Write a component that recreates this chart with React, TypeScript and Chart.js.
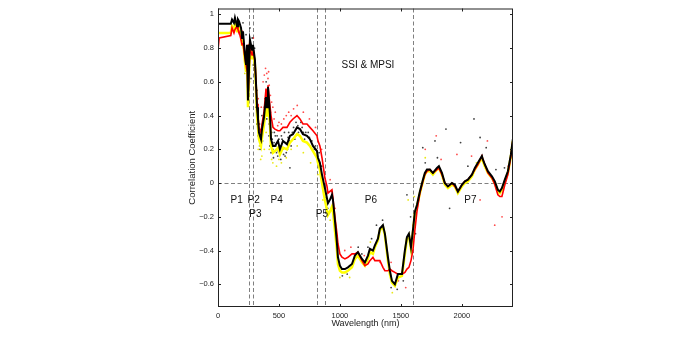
import React, { useEffect, useRef } from "react";
import { Chart, registerables } from "chart.js";

Chart.register(...registerables);

const FONT = "'Liberation Sans', Arial, Helvetica, sans-serif";

// Wavelength (nm) sample positions shared by the three correlation curves
const wavelengths = [
  0, 10, 105, 115, 131, 139, 156, 164, 172, 189,
  197, 205, 221, 230, 238, 246, 262, 279, 287, 303,
  312, 320, 328, 336, 353, 361, 377, 394, 402, 410,
  426, 435, 451, 467, 492, 508, 533, 566, 590, 615,
  648, 672, 697, 730, 754, 779, 812, 820, 836, 853,
  877, 894, 902, 918, 935, 943, 959, 976, 984, 1000,
  1017, 1041, 1066, 1099, 1123, 1148, 1181, 1205, 1230, 1246,
  1271, 1287, 1312, 1328, 1353, 1369, 1394, 1410, 1427, 1451,
  1476, 1509, 1533, 1550, 1566, 1583, 1599, 1615, 1632, 1656,
  1681, 1697, 1714, 1738, 1763, 1796, 1812, 1837, 1861, 1886,
  1919, 1943, 1968, 2001, 2025, 2050, 2083, 2107, 2132, 2165,
  2173, 2189, 2214, 2247, 2271, 2296, 2312, 2329, 2353, 2378,
  2403, 2419,
];

const blackCurve = [
  0.945, 0.945, 0.945, 0.97, 0.95, 0.98, 0.93, 0.97, 0.96, 0.92,
  0.86, 0.90, 0.76, 0.70, 0.82, 0.49, 0.85, 0.79, 0.82, 0.73,
  0.59, 0.45, 0.38, 0.30, 0.26, 0.32, 0.39, 0.51, 0.45, 0.57,
  0.41, 0.26, 0.22, 0.22, 0.25, 0.20, 0.25, 0.23, 0.28, 0.29,
  0.33, 0.32, 0.29, 0.28, 0.26, 0.22, 0.19, 0.15, 0.12, 0.05,
  -0.03, -0.09, -0.12, -0.10, -0.07, -0.10, -0.22, -0.36, -0.44, -0.49,
  -0.51, -0.51, -0.50, -0.48, -0.43, -0.41, -0.45, -0.47, -0.43, -0.39,
  -0.40, -0.37, -0.33, -0.27, -0.25, -0.30, -0.44, -0.52, -0.58, -0.60,
  -0.54, -0.54, -0.40, -0.32, -0.30, -0.38, -0.28, -0.17, -0.13, -0.05,
  0.02, 0.06, 0.08, 0.08, 0.06, 0.09, 0.10, 0.06, 0.00, -0.02,
  0.00, -0.01, -0.05, -0.01, 0.01, 0.02, 0.05, 0.09, 0.12, 0.16,
  0.14, 0.11, 0.07, 0.04, 0.01, -0.04, -0.05, -0.03, 0.02, 0.07,
  0.17, 0.26,
];

const redCurve = [
  0.79, 0.86, 0.875, 0.92, 0.89, 0.91, 0.93, 0.91, 0.90, 0.85,
  0.82, 0.83, 0.74, 0.70, 0.78, 0.50, 0.80, 0.76, 0.80, 0.72,
  0.60, 0.47, 0.40, 0.33, 0.30, 0.35, 0.42, 0.56, 0.50, 0.58,
  0.46, 0.40, 0.33, 0.32, 0.31, 0.31, 0.33, 0.33, 0.36, 0.38,
  0.40, 0.38, 0.35, 0.35, 0.33, 0.31, 0.28, 0.25, 0.22, 0.15,
  0.03, -0.02, -0.06, -0.05, -0.04, -0.09, -0.20, -0.30, -0.36, -0.42,
  -0.44, -0.45, -0.44, -0.42, -0.42, -0.41, -0.46, -0.49, -0.48, -0.46,
  -0.44, -0.46, -0.46, -0.46, -0.50, -0.52, -0.52, -0.51, -0.52, -0.53,
  -0.54, -0.54, -0.53, -0.51, -0.50, -0.46, -0.40, -0.28, -0.17, -0.06,
  0.01, 0.05, 0.07, 0.08, 0.06, 0.08, 0.09, 0.05, 0.00, -0.02,
  0.00, -0.02, -0.05, -0.01, 0.01, 0.02, 0.05, 0.08, 0.11, 0.16,
  0.14, 0.11, 0.06, 0.03, -0.01, -0.07, -0.08, -0.08, -0.01, 0.05,
  0.16, 0.25,
];

const yellowCurve = [
  0.89, 0.89, 0.89, 0.93, 0.91, 0.94, 0.90, 0.93, 0.92, 0.88,
  0.82, 0.85, 0.72, 0.66, 0.78, 0.45, 0.80, 0.74, 0.78, 0.70,
  0.55, 0.40, 0.33, 0.26, 0.22, 0.27, 0.34, 0.46, 0.40, 0.50,
  0.35, 0.22, 0.18, 0.19, 0.21, 0.17, 0.21, 0.20, 0.24, 0.26,
  0.29, 0.28, 0.25, 0.24, 0.22, 0.19, 0.15, 0.12, 0.08, 0.00,
  -0.10, -0.16, -0.19, -0.17, -0.14, -0.17, -0.28, -0.40, -0.48, -0.52,
  -0.53, -0.53, -0.52, -0.50, -0.45, -0.43, -0.47, -0.49, -0.45, -0.41,
  -0.42, -0.38, -0.34, -0.28, -0.26, -0.31, -0.46, -0.54, -0.59, -0.61,
  -0.56, -0.55, -0.42, -0.33, -0.31, -0.39, -0.29, -0.18, -0.14, -0.06,
  0.01, 0.05, 0.07, 0.07, 0.05, 0.08, 0.09, 0.05, -0.01, -0.03,
  -0.01, -0.02, -0.06, -0.02, 0.00, 0.01, 0.04, 0.08, 0.11, 0.15,
  0.13, 0.10, 0.06, 0.03, 0.00, -0.05, -0.06, -0.04, 0.01, 0.06,
  0.16, 0.25,
];

// Individual scattered points [wavelength, r]
const blackDots = [
  [150, 0.96], [180, 0.93], [205, 0.95], [230, 0.88], [246, 0.6], [262, 0.92], [280, 0.86],
  [300, 0.8], [320, 0.55], [340, 0.35], [350, 0.22], [365, 0.25], [380, 0.45], [395, 0.6],
  [405, 0.55], [415, 0.48], [420, 0.35], [440, 0.3], [455, 0.15], [470, 0.28], [480, 0.18],
  [500, 0.26], [515, 0.14], [530, 0.2], [545, 0.3], [560, 0.18], [575, 0.27], [590, 0.09],
  [600, 0.22], [620, 0.33], [640, 0.36], [660, 0.3], [690, 0.33], [710, 0.26], [740, 0.3],
  [770, 0.25], [790, 0.2], [830, 0.18], [850, 0.1], [900, -0.15], [930, -0.05], [1020, -0.55],
  [1060, -0.54], [1150, -0.38], [1180, -0.42], [1230, -0.38], [1260, -0.33], [1300, -0.25],
  [1350, -0.22], [1420, -0.62], [1470, -0.63], [1520, -0.58], [1550, -0.07], [1580, -0.2],
  [1620, -0.3], [1680, 0.21], [1700, 0.12], [1780, 0.25], [1800, 0.15], [1870, 0.32],
  [1900, -0.15], [1990, 0.24], [2050, 0.1], [2100, 0.38], [2150, 0.27], [2200, 0.21],
  [2280, 0.08], [2350, 0.09], [360, 0.4], [430, 0.42], [460, 0.24], [490, 0.16], [520, 0.28],
  [550, 0.16], [580, 0.3], [630, 0.26], [680, 0.36], [720, 0.3],
  [235, 0.78], [252, 0.7], [270, 0.62], [290, 0.7], [310, 0.45], [318, 0.35], [330, 0.28],
  [345, 0.2], [355, 0.3], [370, 0.34], [385, 0.5], [390, 0.4], [400, 0.38], [410, 0.46],
  [418, 0.28], [425, 0.22], [435, 0.18], [445, 0.26], [450, 0.2], [462, 0.3], [475, 0.22],
  [485, 0.28], [495, 0.19], [510, 0.22], [525, 0.26], [538, 0.17], [555, 0.24], [570, 0.2],
  [585, 0.25], [610, 0.3], [655, 0.34], [700, 0.3], [750, 0.27], [800, 0.22],
];

const redDots = [
  [200, 0.9], [250, 0.82], [290, 0.86], [330, 0.5], [370, 0.6], [390, 0.68], [400, 0.65],
  [410, 0.62], [430, 0.52], [450, 0.45], [470, 0.42], [500, 0.36], [540, 0.38], [580, 0.42],
  [620, 0.44], [650, 0.46], [700, 0.42], [750, 0.38], [800, 0.33], [850, 0.2], [920, 0.02],
  [960, -0.15], [1040, -0.4], [1090, -0.38], [1200, -0.43], [1250, -0.4], [1330, -0.47],
  [1420, -0.47], [1480, -0.58], [1540, -0.62], [1600, -0.25], [1650, -0.1], [1700, 0.2],
  [1790, 0.28], [1830, 0.14], [1960, 0.17], [2080, 0.16], [2150, -0.1], [2210, 0.25],
  [2270, -0.25], [2330, -0.2], [2380, 0.1], [380, 0.64], [420, 0.58], [440, 0.48], [560, 0.4],
  [355, 0.45], [398, 0.55], [415, 0.66], [460, 0.38], [490, 0.34], [520, 0.35], [600, 0.4],
];

const yellowDots = [
  [220, 0.65], [240, 0.72], [300, 0.7], [310, 0.5], [340, 0.22], [360, 0.16], [380, 0.2],
  [420, 0.2], [450, 0.12], [480, 0.1], [520, 0.12], [560, 0.15], [600, 0.2], [650, 0.22],
  [700, 0.18], [760, 0.12], [820, 0.05], [860, -0.1], [920, -0.22], [1000, -0.56],
  [1080, -0.56], [1250, -0.35], [1340, -0.27], [1430, -0.65], [1560, -0.1], [1610, -0.08],
  [1700, 0.15], [1900, -0.02], [2120, 0.12], [2230, 0.05], [2350, 0.0],
  [210, 0.8], [260, 0.6], [330, 0.2], [350, 0.14], [395, 0.3], [440, 0.14], [500, 0.14],
];

const dividers = [255, 290, 810, 880, 1600];
const periodNames = ["P1", "P2", "P3", "P4", "P5", "P6", "P7"];
const periodX = [153, 293, 307, 481, 853, 1255, 2071];
const periodY = [-0.1, -0.1, -0.185, -0.1, -0.185, -0.1, -0.1];
const panelTitle = "SSI & MPSI";
const panelTitleX = 1230;
const panelTitleY = 0.7;
const xTicks = [0, 500, 1000, 1500, 2000];
const yTicks = [-0.6, -0.4, -0.2, 0, 0.2, 0.4, 0.6, 0.8, 1];

const toPts = (xs: number[], ys: number[]) => xs.map((x, i) => ({ x, y: ys[i] }));
const pairPts = (arr: number[][]) => arr.map(([x, y]) => ({ x, y }));

const decorPlugin = {
  id: "decor",
  beforeDatasetsDraw(chart: any) {
    const { ctx, chartArea: a, scales } = chart;
    const x = scales.x;
    const y = scales.y;
    ctx.save();
    ctx.strokeStyle = "#808080";
    ctx.lineWidth = 1;
    ctx.setLineDash([4, 2.5]);
    for (const d of dividers) {
      const px = Math.round(x.getPixelForValue(d)) + 0.5;
      ctx.beginPath();
      ctx.moveTo(px, a.top);
      ctx.lineTo(px, a.bottom);
      ctx.stroke();
    }
    const py0 = Math.round(y.getPixelForValue(0)) + 0.5;
    ctx.beginPath();
    ctx.moveTo(a.left, py0);
    ctx.lineTo(a.right, py0);
    ctx.stroke();
    ctx.restore();
  },
  afterDatasetsDraw(chart: any) {
    const { ctx, chartArea: a, scales } = chart;
    const x = scales.x;
    const y = scales.y;
    ctx.save();
    ctx.fillStyle = "#111";
    ctx.font = `10px ${FONT}`;
    ctx.textAlign = "center";
    ctx.textBaseline = "middle";
    periodNames.forEach((n, i) => {
      ctx.fillText(n, x.getPixelForValue(periodX[i]), y.getPixelForValue(periodY[i]));
    });
    ctx.fillText(panelTitle, x.getPixelForValue(panelTitleX), y.getPixelForValue(panelTitleY));

    // axes box
    ctx.strokeStyle = "#222";
    ctx.lineWidth = 1;
    ctx.setLineDash([]);
    ctx.strokeRect(a.left + 0.5, a.top + 0.5, a.right - a.left - 1, a.bottom - a.top - 1);
    // inward ticks
    const tl = 3;
    ctx.beginPath();
    for (const v of xTicks) {
      const px = Math.round(x.getPixelForValue(v)) + 0.5;
      ctx.moveTo(px, a.bottom);
      ctx.lineTo(px, a.bottom - tl);
      ctx.moveTo(px, a.top);
      ctx.lineTo(px, a.top + tl);
    }
    for (const v of yTicks) {
      const py = Math.round(y.getPixelForValue(v)) + 0.5;
      ctx.moveTo(a.left, py);
      ctx.lineTo(a.left + tl, py);
      ctx.moveTo(a.right, py);
      ctx.lineTo(a.right - tl, py);
    }
    ctx.stroke();
    ctx.restore();
  },
};

export default function App() {
  const ref = useRef<HTMLCanvasElement | null>(null);

  useEffect(() => {
    if (!ref.current) return;
    const dotStyle = (color: string, order: number, data: any[]) => ({
      type: "scatter" as const,
      data,
      showLine: false,
      pointRadius: 0.9,
      pointBorderWidth: 0,
      pointBackgroundColor: color,
      borderColor: color,
      order,
    });
    const chart = new Chart(ref.current, {
      type: "line",
      data: {
        datasets: [
          {
            data: toPts(wavelengths, blackCurve),
            borderColor: "#000000",
            borderWidth: 2,
            pointRadius: 0,
            tension: 0,
            order: 0,
          },
          {
            data: toPts(wavelengths, redCurve),
            borderColor: "#ff0000",
            borderWidth: 1.6,
            pointRadius: 0,
            tension: 0,
            order: 1,
          },
          {
            data: toPts(wavelengths, yellowCurve),
            borderColor: "#ffff00",
            borderWidth: 2.5,
            pointRadius: 0,
            tension: 0,
            order: 2,
          },
          dotStyle("rgba(0,0,0,0.75)", 3, pairPts(blackDots)) as any,
          dotStyle("rgba(255,0,0,0.7)", 4, pairPts(redDots)) as any,
          dotStyle("rgba(230,230,0,0.9)", 5, pairPts(yellowDots)) as any,
        ],
      },
      options: {
        animation: false,
        responsive: false,
        devicePixelRatio: 1,
        events: [],
        layout: { padding: { left: 0, top: 6, right: 185, bottom: 0 } },
        plugins: { legend: { display: false }, tooltip: { enabled: false } },
        scales: {
          x: {
            type: "linear",
            min: 0,
            max: 2420,
            afterBuildTicks: (s: any) => {
              s.ticks = xTicks.map((v) => ({ value: v }));
            },
            afterFit: (s: any) => {
              s.height = 35;
            },
            grid: { display: false, drawTicks: false },
            border: { display: false },
            ticks: {
              autoSkip: false,
              maxRotation: 0,
              padding: 4,
              color: "#222",
              font: { family: FONT, size: 7.5 },
              callback: (v: any) => String(v),
            },
            title: {
              display: true,
              text: "Wavelength (nm)",
              color: "#222",
              font: { family: FONT, size: 9 },
              padding: { top: 0, bottom: 12.6 },
            },
          },
          y: {
            type: "linear",
            min: -0.735,
            max: 1.035,
            afterBuildTicks: (s: any) => {
              s.ticks = yTicks.map((v) => ({ value: v }));
            },
            afterFit: (s: any) => {
              s.width = 218;
            },
            grid: { display: false, drawTicks: false },
            border: { display: false },
            ticks: {
              autoSkip: false,
              padding: 4,
              color: "#222",
              font: { family: FONT, size: 7.5 },
              callback: (v: any) => {
                const n = Math.round(Number(v) * 10) / 10;
                return n < 0 ? "\u2212" + String(Math.abs(n)) : String(n);
              },
            },
            title: {
              display: true,
              text: "Correlation Coefficient",
              color: "#222",
              font: { family: FONT, size: 9.5 },
              padding: { top: 186.3, bottom: 0 },
            },
          },
        },
      },
      plugins: [decorPlugin],
    } as any);
    return () => chart.destroy();
  }, []);

  return (
    <div style={{ position: "absolute", left: 0, top: 0, width: 698, height: 342, background: "#fff" }}>
      <canvas ref={ref} width={698} height={342} style={{ display: "block", width: 698, height: 342 }} />
    </div>
  );
}
